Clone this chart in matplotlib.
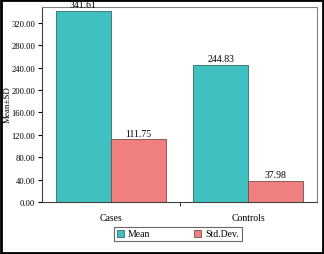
import numpy as np
import matplotlib.pyplot as plt
from matplotlib.patches import Rectangle

plt.rcParams['font.family'] = ['Liberation Serif', 'DejaVu Serif']

groups = ["Cases", "Controls"]
mean_vals = [341.61, 244.83]
sd_vals = [111.75, 37.98]
yticks = [0, 40, 80, 120, 160, 200, 240, 280, 320]

fig = plt.figure(figsize=(3.24, 2.55), dpi=100)
ax = fig.add_axes([42/324, 52/255, 275/324, 195/255])

x = np.arange(len(groups))
w = 0.4
b1 = ax.bar(x - w, mean_vals, w, align='edge', color='#40C0C0', edgecolor='#3a6a6a', linewidth=0.6, label='Mean')
b2 = ax.bar(x, sd_vals, w, align='edge', color='#F08080', edgecolor='#7a4a4a', linewidth=0.6, label='Std.Dev.')

for bars, vals in [(b1, mean_vals), (b2, sd_vals)]:
    for r, v in zip(bars, vals):
        ax.text(r.get_x() + r.get_width()/2, v + 3, "%.2f" % v, ha='center', va='bottom', fontsize=7)

ax.set_xlim(-0.5, 1.5)
ax.set_ylim(0, 348)
ax.set_yticks(yticks)
ax.set_yticklabels(["%.2f" % t for t in yticks], fontsize=6.2)
ax.set_xticks(x)
ax.set_xticklabels(groups, fontsize=7)
ax.tick_params(axis='x', length=0, pad=8)
ax.set_xticks([0.5], minor=True)
ax.tick_params(axis='x', which='minor', length=3, direction='out')
ax.tick_params(axis='y', length=3, direction='out', pad=2)
fig.text(8/324, 1 - 105/255, "Mean±SD", rotation=90, ha='center', va='center', fontsize=6.5)

for s in ['top', 'right']:
    ax.spines[s].set_color('#808080')
    ax.spines[s].set_linewidth(0.8)
for s in ['left', 'bottom']:
    ax.spines[s].set_color('#404040')
    ax.spines[s].set_linewidth(0.8)

leg = fig.legend(loc='center', bbox_to_anchor=(178/324, 1 - 235/255), ncol=2, fontsize=7,
                 frameon=True, fancybox=False, handlelength=0.7, handleheight=0.7,
                 columnspacing=4.5, borderpad=0.3, handletextpad=0.4)
leg.get_frame().set_edgecolor('#404040')
leg.get_frame().set_linewidth(0.8)

fig.patches.append(Rectangle((0.003, 0.004), 0.994, 0.992, transform=fig.transFigure,
                             fill=False, edgecolor='black', linewidth=2))

fig.savefig("out.png", dpi=100)
